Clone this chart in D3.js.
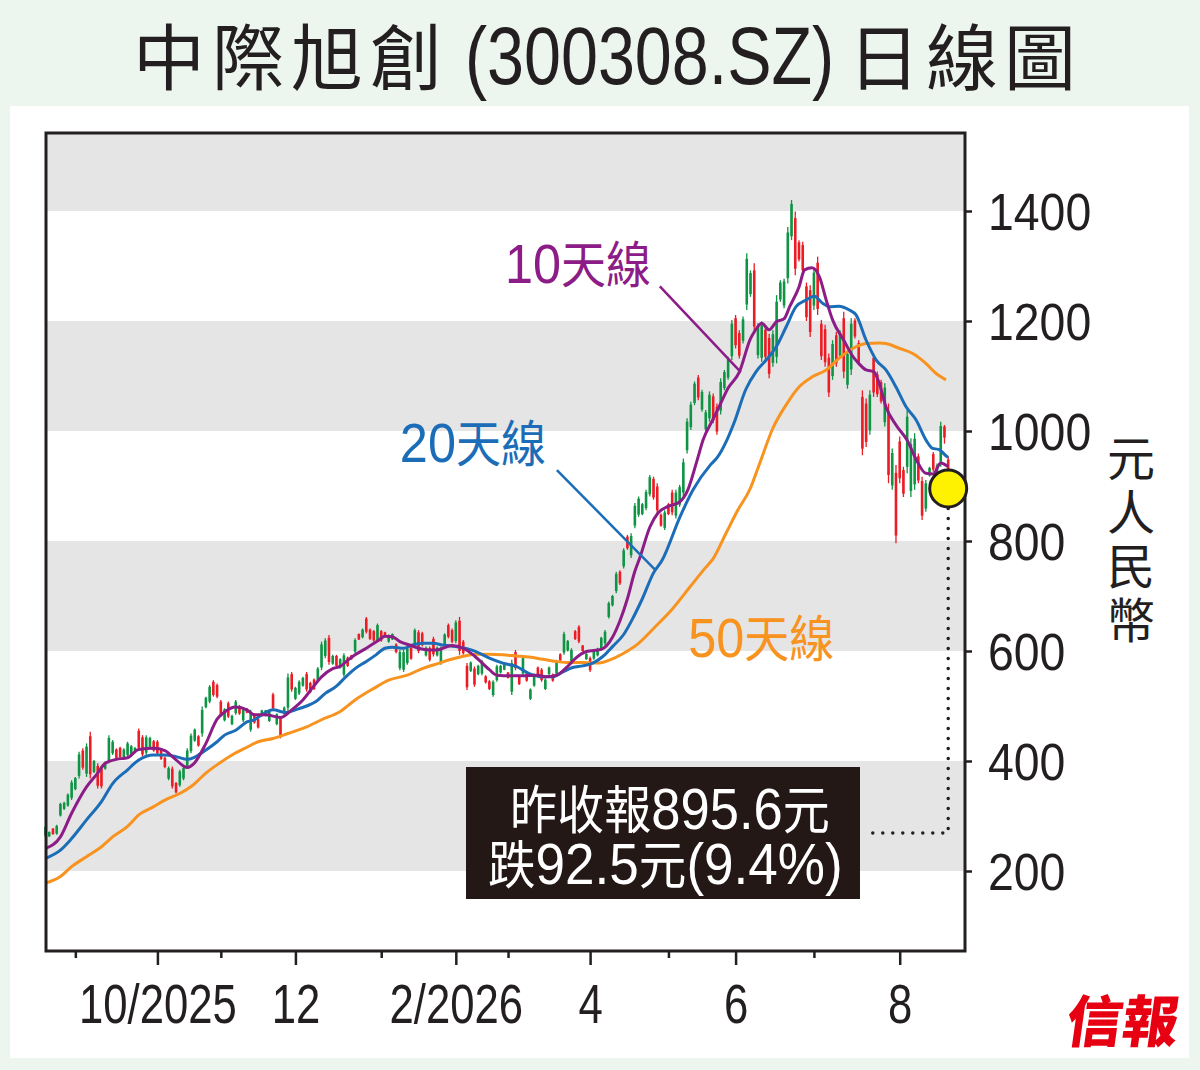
<!DOCTYPE html>
<html><head><meta charset="utf-8">
<script src="https://cdn.jsdelivr.net/npm/d3@7"></script>
<style>html,body{margin:0;padding:0;background:#edf5ef;}svg{display:block}</style>
</head><body><svg id="c" width="1200" height="1070"></svg>
<script>
// ---------- DATA ----------
const opens = [264,263,277,268,301,313,319,333,349,373,419,377,445,380,391,386,386,401,414,421,424,404,411,410,418,455,443,415,425,436,435,421,406,368,386,360,356,368,391,418,437,445,450,498,508,544,538,508,474,505,467,487,500,474,495,457,485,476,482,482,473,521,467,477,486,497,558,513,523,537,558,542,548,547,570,591,624,577,591,570,557,588,592,599,631,625,659,639,636,620,636,634,617,621,612,569,566,578,606,611,634,632,592,605,622,592,578,610,647,638,618,655,617,573,564,568,558,559,554,545,520,547,561,566,561,526,598,554,559,560,513,537,570,566,531,558,557,559,594,597,601,581,636,644,610,585,587,586,592,604,614,662,683,709,744,754,808,774,828,848,849,860,885,913,899,848,824,867,888,846,866,888,965,1007,1051,1097,1039,1003,1023,1063,1044,1037,1078,1097,1136,1205,1178,1164,1230,1249,1292,1138,1133,1184,1169,1124,1135,1239,1228,1278,1354,1387,1343,1338,1263,1256,1228,1306,1195,1185,1133,1100,1174,1137,1205,1084,1112,1201,1160,1062,1050,1001,1133,1103,1089,1016,1035,901,924,981,929,935,891,903,954,909,859,919,958,909,943,1008,948];
const highs = [282,272,278,284,324,326,341,365,371,417,423,432,453,402,396,390,399,447,438,423,426,423,435,429,425,459,447,447,444,438,438,423,408,390,390,362,384,390,423,450,459,447,499,517,538,547,541,511,496,508,484,511,502,496,496,493,487,478,493,493,493,524,487,481,499,559,562,535,547,553,562,544,550,571,617,623,629,593,593,587,596,590,593,623,632,641,662,641,638,650,638,635,630,632,614,602,602,608,608,641,638,635,608,608,626,608,608,632,650,641,656,662,620,578,581,572,575,584,556,547,547,575,575,578,562,584,602,556,590,562,532,559,572,569,550,572,559,584,596,635,620,605,638,647,611,596,590,602,606,626,638,690,702,744,747,787,811,814,869,881,869,893,920,917,905,850,856,869,893,893,902,950,1023,1053,1090,1102,1075,1038,1072,1068,1050,1096,1111,1135,1202,1211,1183,1208,1323,1292,1305,1196,1199,1190,1177,1183,1247,1274,1277,1371,1420,1399,1347,1344,1270,1265,1296,1317,1202,1193,1141,1165,1180,1183,1217,1147,1205,1205,1165,1074,1059,1074,1141,1108,1093,1087,1050,968,938,990,935,1038,987,996,959,917,911,935,962,941,1017,1011,953];
const lows = [262,262,266,266,299,311,317,329,347,368,384,371,368,378,350,350,384,396,411,402,405,402,408,408,417,420,408,411,423,417,411,402,387,365,350,341,353,365,387,414,435,426,444,496,505,517,514,481,472,478,465,484,484,471,487,453,468,459,481,481,471,493,465,441,484,490,526,511,520,535,526,523,529,544,565,587,575,575,571,568,553,571,584,596,620,623,632,620,617,617,617,626,615,620,596,565,562,575,584,608,596,608,590,581,590,590,575,608,623,614,614,593,593,529,562,535,556,556,541,529,517,544,559,565,550,520,565,538,556,544,511,535,553,544,529,556,544,556,581,593,599,578,620,614,599,584,562,584,590,602,611,659,681,705,720,750,784,769,823,844,847,856,881,875,850,826,820,847,847,841,862,881,959,1002,1047,1056,1035,999,1017,1014,993,1030,1074,1093,1129,1150,1132,1159,1220,1244,1177,1132,1126,1129,1096,1117,1123,1235,1223,1268,1347,1283,1308,1286,1200,1171,1220,1211,1129,1117,1062,1093,1117,1132,1096,1077,1102,1168,1120,956,971,993,1062,1062,1050,1008,905,893,796,905,880,923,880,893,905,838,853,917,926,905,935,977,890];
const closes = [280,271,267,282,322,324,339,361,369,412,388,426,376,400,355,354,397,442,435,404,407,421,432,427,424,424,412,443,442,419,414,404,389,387,354,343,381,387,419,446,457,428,493,515,535,520,517,484,494,481,482,508,486,493,488,489,470,461,492,492,491,496,485,445,497,552,530,533,544,551,530,525,531,568,612,619,580,591,573,585,592,573,585,620,621,639,635,622,619,647,619,627,628,631,598,598,598,605,586,638,600,611,606,584,594,606,605,630,626,617,652,600,596,534,579,539,573,581,543,531,544,572,573,577,551,578,569,540,587,546,530,557,555,547,548,570,546,581,583,631,618,602,622,617,600,595,565,600,604,624,635,687,700,740,723,783,787,809,864,877,867,889,916,879,856,828,852,849,852,888,898,943,1017,1048,1086,1061,1071,1034,1066,1019,999,1089,1107,1131,1195,1156,1137,1203,1313,1287,1190,1190,1192,1135,1104,1176,1235,1270,1272,1361,1413,1295,1312,1292,1207,1180,1288,1222,1136,1125,1070,1158,1123,1178,1108,1140,1195,1172,1125,968,980,1066,1070,1067,1054,1079,920,960,810,914,886,1026,976,986,910,846,905,933,930,937,1009,988.1,895.6];

// moving averages: [trading-day index, value]
const ma10 = [[0,241],[4,262],[7,305],[11,353],[14,378],[16,396],[19,403],[22,406],[25,421],[29,423],[32,419],[35,402],[38,388],[40,397],[43,432],[46,476],[48,489],[51,498],[54,493],[56,484],[59,484],[63,479],[66,493],[69,511],[72,537],[74,553],[77,568],[79,572],[81,583],[83,593],[86,605],[89,618],[91,627],[93,626],[95,617],[98,610],[100,605],[103,602],[105,602],[109,610],[112,605],[115,591],[119,566],[121,556],[125,555],[128,555],[132,556],[134,553],[137,556],[140,572],[142,586],[145,599],[149,603],[152,625],[154,655],[156,695],[158,745],[159.4,771],[162,825],[164.2,851],[166.6,862],[170,871],[172.2,893],[174.7,947],[176.3,984],[179,1022],[181,1050],[183,1078],[186,1107],[189,1168],[190,1180],[192,1196],[194,1184],[196,1199],[198,1204],[199.5,1226],[202,1262],[203.5,1293],[205.5,1297],[207.5,1280],[209.3,1238],[211,1202],[214,1165],[216.5,1135],[218,1123],[220,1111],[222,1108],[223.5,1087],[225.3,1044],[228,1011],[231,983],[233.5,947],[236,923],[238,922],[240,942],[242,935]];
const ma20 = [[0,223],[4,238],[7,259],[11,293],[15,326],[18,359],[22,384],[25,402],[29,411],[32,411],[35,408],[38,403],[40,407],[43,420],[46,435],[48,447],[51,456],[54,471],[56,475],[58,484],[61,493],[64.5,488],[67,493],[70,500],[72.5,508],[75,523],[78,536],[80.5,553],[83,568],[86,581],[88.6,593],[91,605],[93,607],[96,605],[98.4,611],[101,614],[104,614],[106.4,611],[110,608],[113,604],[115.4,599],[119,587],[122.6,578],[126.2,572],[129.7,559],[133.3,553],[136,553],[138.7,562],[141.3,570],[144,573],[146.7,578],[149.4,590],[152,608],[155,630],[157.5,660],[160,695],[163,742],[165.3,765],[170.1,844],[173.6,893],[178.2,938],[180,951],[182.7,984],[184.6,1015],[187.7,1075],[190.5,1108],[193.2,1129],[195.9,1153],[198.6,1190],[201.2,1226],[203.9,1238],[206.1,1245],[208.4,1232],[210.2,1226],[212.7,1227],[215.5,1220],[217.3,1211],[220,1165],[222.7,1129],[225.3,1111],[228,1080],[230.7,1044],[233.4,1020],[236.1,983],[237.7,969],[239.6,966],[241.4,955],[242,952]];
const ma50 = [[0,178],[4,190],[7,208],[11,226],[15,244],[18,262],[22,281],[25,302],[29,317],[32,329],[36,341],[39.5,356],[43,378],[46.6,396],[50,411],[54,425],[57,435],[61,441],[65,450],[70,462],[74,475],[79,490],[83,511],[88,532],[92,547],[97,556],[101,568],[105.6,578],[108.3,584],[111.7,590],[115.4,594],[119,594],[122.6,593],[126.2,591],[129.7,589],[133.3,585],[137,581],[140.4,579],[144,579],[146.7,578],[148.5,578],[151,583],[155,596],[159,614],[163.6,645],[168,676],[172.6,715],[177,752],[179,768],[182.5,815],[185.5,855],[188.9,895],[191.4,940],[195,1005],[198.6,1048],[202,1080],[205.7,1099],[209.3,1111],[212.7,1132],[216.4,1150],[220,1159],[223.6,1160],[225.3,1159],[229,1150],[232.5,1141],[236,1123],[238.7,1105],[241.4,1093]];

const yTicks = [200,400,600,800,1000,1200,1400];
const bandRanges = [[1400,null],[1000,1200],[600,800],[200,400]];
const majorIdx = [30,67,110,146,185,229];
const majorLabels = ['10/2025','12','2/2026','4','6','8'];
const minorIdx = [8,47,90,124,167,206];

const titleParts = ['中際旭創','(300308.SZ)','日線圖'];
const unitLabel = '元人民幣';
const lastClose = 895.6, change = 92.5, changePct = 9.4;
const seriesLabels = [
  {name:'10天線', color:'#8c1d87', at:[123.2,1269], from:[164.7,1263], to:[186.4,1107]},
  {name:'20天線', color:'#1b6db7', at:[95.0,944],   from:[137.1,929],  to:[163.4,748]},
  {name:'50天線', color:'#f7931e', at:[172.3,590]}
];

// ---------- DRAW ----------
const SANS = "'Liberation Sans',Arial,sans-serif";
const CJK = "'Noto Sans CJK TC','Noto Sans CJK SC',sans-serif";
const INK = '#231f20';
const plot = {l:46, r:965, t:133, b:951};
const svg = d3.select('#c');
svg.append('rect').attr('width',1200).attr('height',1070).attr('fill','#edf5ef');
svg.append('rect').attr('x',10).attr('y',106).attr('width',1179).attr('height',952).attr('fill','#ffffff');

const x = d3.scaleLinear().domain([0, closes.length-1]).range([45.5, 948.2]);
const y = d3.scaleLinear().domain([200,1400]).range([871,211]);
const yTopVal = y.invert(plot.t);

// bands
svg.append('g').selectAll('rect').data(bandRanges).join('rect')
  .attr('x',plot.l).attr('width',plot.r-plot.l)
  .attr('y',d=>y(d[1]==null?yTopVal:d[1]))
  .attr('height',d=>y(d[0])-y(d[1]==null?yTopVal:d[1]))
  .attr('fill','#e6e5e6');

// candles
const GREEN='#0f9444', RED='#ec1c24';
const cg = svg.append('g');
closes.forEach((c,i)=>{
  const o=opens[i], up=c>=o, col=up?GREEN:RED;
  const cx=x(i);
  cg.append('line').attr('x1',cx).attr('x2',cx).attr('y1',y(highs[i])).attr('y2',y(lows[i]))
    .attr('stroke',col).attr('stroke-width',1.3);
  const top=y(Math.max(o,c)), bot=y(Math.min(o,c));
  cg.append('rect').attr('x',cx-1.3).attr('width',2.6).attr('y',top).attr('height',Math.max(1,bot-top)).attr('fill',col);
});

// moving averages
const line = d3.line().x(d=>x(d[0])).y(d=>y(d[1])).curve(d3.curveMonotoneX);
[[ma50,'#f7931e'],[ma20,'#1b6db7'],[ma10,'#8c1d87']].forEach(([d,c])=>{
  svg.append('path').attr('d',line(d)).attr('fill','none').attr('stroke',c).attr('stroke-width',3).attr('stroke-linejoin','round');
});

// frame
svg.append('rect').attr('x',plot.l).attr('y',plot.t).attr('width',plot.r-plot.l).attr('height',plot.b-plot.t)
  .attr('fill','none').attr('stroke',INK).attr('stroke-width',3);

// y axis
const YS = 0.91;
const gy = svg.append('g').attr('transform',`translate(${plot.r},0)`)
  .call(d3.axisRight(y).tickValues(yTicks).tickSize(7).tickPadding(16).tickFormat(d3.format('d')));
gy.select('.domain').remove();
gy.selectAll('line').attr('stroke',INK).attr('stroke-width',2.5);
gy.selectAll('text').attr('font-family',SANS).attr('font-size',51).attr('fill',INK).attr('dy','0.36em')
  .attr('x',23/YS).attr('transform',`scale(${YS},1)`);

// x axes
const XS = 0.78;
const gxm = svg.append('g').attr('transform',`translate(0,${plot.b})`)
  .call(d3.axisBottom(x).tickValues(minorIdx).tickSize(7).tickFormat(''));
gxm.select('.domain').remove();
gxm.selectAll('line').attr('stroke',INK).attr('stroke-width',2.5);
const gxM = svg.append('g').attr('transform',`translate(0,${plot.b})`)
  .call(d3.axisBottom(x).tickValues(majorIdx).tickSize(14).tickPadding(18).tickFormat((d,k)=>majorLabels[k]));
gxM.select('.domain').remove();
gxM.selectAll('line').attr('stroke',INK).attr('stroke-width',2.5);
gxM.selectAll('text').attr('font-family',SANS).attr('font-size',56).attr('fill',INK)
  .attr('transform',`scale(${XS},1)`);

// unit label (vertical)
svg.append('text').attr('x',1131).attr('y',434)
  .style('writing-mode','vertical-rl').style('text-orientation','upright')
  .attr('letter-spacing',6).attr('font-family',CJK).attr('font-size',48).attr('fill',INK).text(unitLabel);

// title
svg.append('text').attr('x',133).attr('y',84).attr('font-family',CJK).attr('font-size',72)
  .attr('letter-spacing',7).attr('fill',INK).text(titleParts[0]);
svg.append('text').attr('transform','translate(465,84) scale(0.81,1)').attr('font-family',SANS).attr('font-size',82)
  .attr('fill',INK).text(titleParts[1]);
svg.append('text').attr('x',848).attr('y',84).attr('font-family',CJK).attr('font-size',72)
  .attr('letter-spacing',6).attr('fill',INK).text(titleParts[2]);

// series labels + leaders
seriesLabels.forEach(s=>{
  if(s.from){
    svg.append('line').attr('x1',x(s.from[0])).attr('y1',y(s.from[1])).attr('x2',x(s.to[0])).attr('y2',y(s.to[1]))
      .attr('stroke',s.color).attr('stroke-width',2.5);
  }
  const t = svg.append('text').attr('transform',`translate(${x(s.at[0])},${y(s.at[1])}) scale(0.9,1)`).attr('fill',s.color);
  t.append('tspan').attr('font-family',SANS).attr('font-size',56).text(s.name.slice(0,2));
  t.append('tspan').attr('font-family',CJK).attr('font-size',50).text(s.name.slice(2));
});

// last close marker + dotted connector
const li = closes.length-1, lx = x(li), ly = y(lastClose);
const box = {x:466, y:767, w:394, h:132};
svg.append('path').attr('d',`M${lx},${ly+20}V${box.y+box.h/2}H${box.x+box.w+3}`)
  .attr('fill','none').attr('stroke',INK).attr('stroke-width',3.5).attr('stroke-linecap','round').attr('stroke-dasharray','0,10');
svg.append('circle').attr('cx',lx).attr('cy',ly).attr('r',18.5).attr('fill','#fff200').attr('stroke',INK).attr('stroke-width',3);

svg.append('rect').attr('x',box.x).attr('y',box.y).attr('width',box.w).attr('height',box.h).attr('fill','#231815');
const l1 = svg.append('text').attr('transform','translate(510,829) scale(0.906,1)').attr('fill','#fff');
l1.append('tspan').attr('font-family',CJK).attr('font-size',52).text('昨收報');
l1.append('tspan').attr('font-family',SANS).attr('font-size',58).text(d3.format('.1f')(lastClose));
l1.append('tspan').attr('font-family',CJK).attr('font-size',52).text('元');
const l2 = svg.append('text').attr('transform','translate(488,884) scale(0.915,1)').attr('fill','#fff');
l2.append('tspan').attr('font-family',CJK).attr('font-size',52).text('跌');
l2.append('tspan').attr('font-family',SANS).attr('font-size',58).text(d3.format('.1f')(change));
l2.append('tspan').attr('font-family',CJK).attr('font-size',52).text('元');
l2.append('tspan').attr('font-family',SANS).attr('font-size',58).text(`(${changePct}%)`);

// logo
svg.append('text').attr('x',1120).attr('y',1042).attr('text-anchor','middle').attr('font-family',CJK)
  .attr('font-weight',900).attr('font-size',56).attr('fill','#e60012')
  .attr('transform','translate(1120,1042) skewX(-8) translate(-1120,-1042)').text('信報');
</script></body></html>
